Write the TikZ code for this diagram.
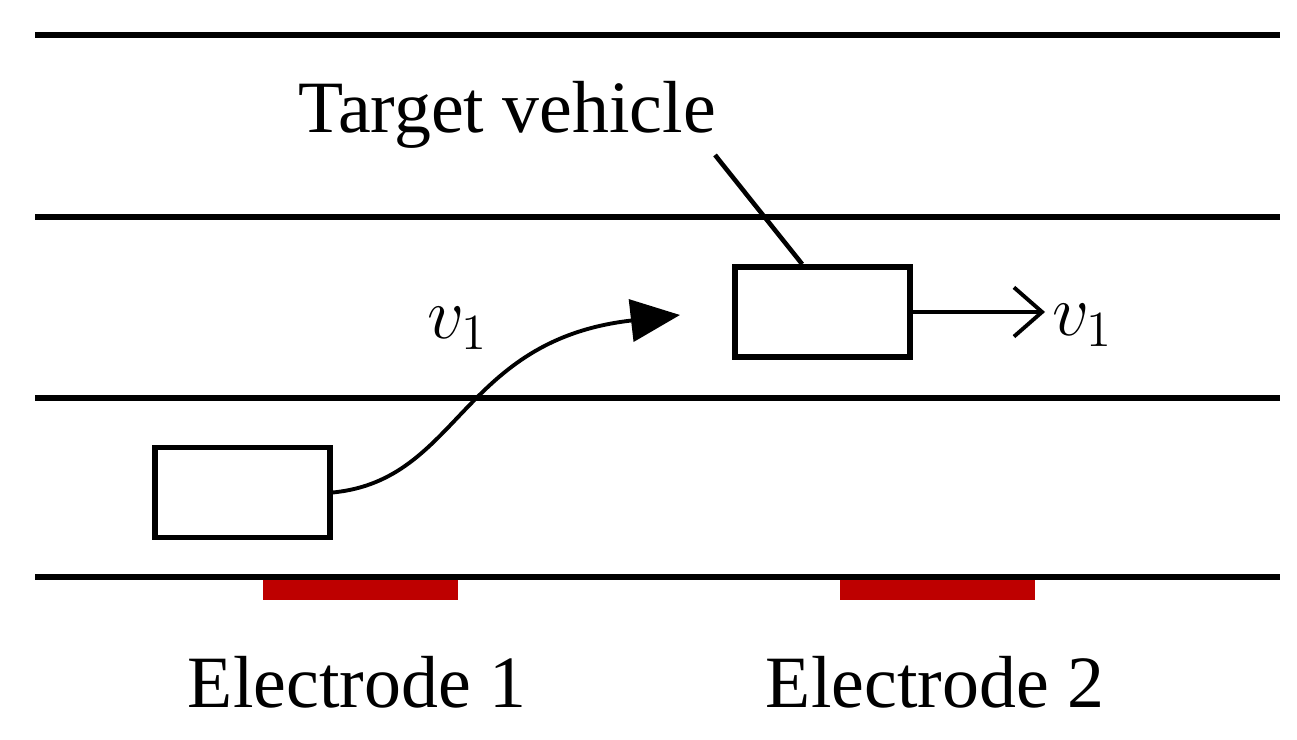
\documentclass[tikz,border=0pt]{standalone}
\usepackage{fontspec}
\setmainfont{Liberation Serif}
\usetikzlibrary{arrows.meta}
\tikzset{
  car/.style={draw,line width=1.6pt,minimum width=1.75cm,minimum height=0.9cm,inner sep=0pt},
  lane/.style={line width=1.6pt},
  electrode/.style={fill={rgb,255:red,190;green,0;blue,0},draw=none},
  lbl/.style={font=\fontsize{21}{24}\selectfont}
}
\begin{document}
\begin{tikzpicture}
\useasboundingbox (0,0) rectangle (12.97,7.40);
% lanes
\foreach \y in {7.05,5.23,3.42,1.63}
  \draw[lane] (0.35,\y) -- (12.80,\y);
% electrodes
\fill[electrode] (2.63,1.40) rectangle (4.58,1.60);
\fill[electrode] (8.40,1.40) rectangle (10.35,1.60);
\node[lbl] (e1) at (3.57,0.58) {Electrode 1};
\node[lbl] (e2) at (9.35,0.58) {Electrode 2};
% vehicles
\node[car] (car1) at (2.425,2.475) {};
\node[car] (car2) at (8.225,4.28) {};
\coordinate (tip) at (6.80,4.25);
\draw[line width=1.1pt,-{Triangle[length=14pt,width=12pt]}] (car1.east) .. controls (4.6,2.6) and (4.6,4.0) .. (tip);
\node[lbl] (v1a) at (4.58,4.12) {$v_1$};
\coordinate (vend) at (10.45,4.28);
\draw[line width=1.1pt,-{Straight Barb[length=8pt,width=14pt]}] (car2.east) -- (vend);
\node[lbl,anchor=west] (v1b) at (10.40,4.15) {$v_1$};
% leader
\node[lbl] (tv) at (5.07,6.25) {Target vehicle};
\coordinate (lead) at (7.15,5.85);
\draw[line width=1.3pt] (lead) -- ([xshift=0.7cm]car2.north west);
\end{tikzpicture}
\end{document}
